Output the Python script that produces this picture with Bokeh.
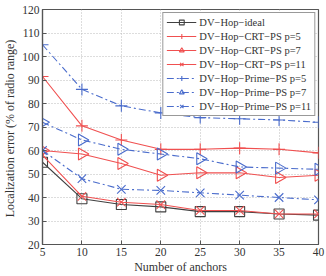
import numpy as np
from bokeh.plotting import figure
from bokeh.models import Range1d, FixedTicker, Legend, LegendItem
from bokeh.embed import file_html
from bokeh.resources import INLINE

# Number of anchors
anchors = [5, 10, 15, 20, 25, 30, 35, 40]

# Localization error (% of radio range)
ideal = [55, 39.5, 37, 36, 34, 34, 33, 32.5]
crt_p5 = [91.5, 70.5, 64.5, 60.5, 60.5, 61, 60.5, 59]
crt_p7 = [60, 58.5, 54.5, 49.5, 50.5, 50.5, 48.5, 49.5]
crt_p11 = [58, 40.5, 38, 37, 34.5, 34.5, 33, 33]
prime_p5 = [105, 86, 79, 76, 74, 73.5, 73, 72]
prime_p7 = [72, 64.5, 60.5, 58.5, 56.5, 53, 52.5, 52]
prime_p11 = [60, 48, 43.5, 43, 42, 41, 40, 39]

x_ticks = [5, 10, 15, 20, 25, 30, 35, 40]
y_ticks = [20, 30, 40, 50, 60, 70, 80, 90, 100, 110, 120]

SERIF = "Liberation Serif"
RED = "#f05050"
BLUE = "#4a6ccc"
BLACK = "#404040"

p = figure(width=326, height=276, output_backend="svg", toolbar_location=None,
           x_range=Range1d(5, 40), y_range=Range1d(20, 120),
           min_border_left=36, min_border_right=8, min_border_top=9,
           min_border_bottom=26)

p.background_fill_color = "white"
p.border_fill_color = "white"
p.outline_line_color = "#555555"
p.outline_line_width = 1.2

for ax in (p.xaxis[0], p.yaxis[0]):
    ax.major_label_text_font = SERIF
    ax.major_label_text_font_size = "11.5px"
    ax.major_label_text_color = "#333333"
    ax.axis_label_text_font = SERIF
    ax.axis_label_text_font_size = "12px"
    ax.axis_label_text_font_style = "normal"
    ax.axis_label_text_color = "#333333"
    ax.axis_line_color = "#555555"
    ax.axis_line_width = 1.2
    ax.major_tick_in = 4
    ax.major_tick_out = 0
    ax.minor_tick_line_color = None
    ax.major_tick_line_color = "#555555"
    ax.major_label_standoff = 3

p.xaxis.ticker = FixedTicker(ticks=x_ticks)
p.yaxis.ticker = FixedTicker(ticks=y_ticks)
p.xaxis.axis_label = "Number of anchors"
p.yaxis.axis_label = "Localization error  (% of radio range)"
p.xaxis.axis_label_standoff = 1
p.yaxis.axis_label_standoff = 2

p.grid.grid_line_color = "#bbbbbb"
p.grid.grid_line_dash = "1 2"
p.grid.grid_line_width = 1

DASHDOT = "7 3 2 3"

series = [
    ("DV\u2212Hop\u2212ideal", ideal, BLACK, "solid", "square", 0),
    ("DV\u2212Hop\u2212CRT\u2212PS p=5", crt_p5, RED, "solid", "cross", 0),
    ("DV\u2212Hop\u2212CRT\u2212PS p=7", crt_p7, RED, "solid", "triangle", -np.pi / 2),
    ("DV\u2212Hop\u2212CRT\u2212PS p=11", crt_p11, RED, "solid", "x", 0),
    ("DV\u2212Hop\u2212Prime\u2212PS p=5", prime_p5, BLUE, DASHDOT, "cross", 0),
    ("DV\u2212Hop\u2212Prime\u2212PS p=7", prime_p7, BLUE, DASHDOT, "triangle", -np.pi / 2),
    ("DV\u2212Hop\u2212Prime\u2212PS p=11", prime_p11, BLUE, DASHDOT, "x", 0),
]

items = []
for name, ys, color, dash, marker, ang in series:
    ln = p.line(anchors, ys, line_color=color, line_width=1.1, line_dash=dash)
    sc = p.scatter(anchors, ys, marker=marker, size=12 if marker != "square" else 10,
                   angle=ang, fill_color=None, line_color=color, line_width=1.1)
    items.append(LegendItem(label=name, renderers=[ln, sc]))

legend = Legend(items=items, location="top_right")
legend.label_text_font = SERIF
legend.label_text_font_size = "10.5px"
legend.label_text_color = "#333333"
legend.glyph_width = 30
legend.glyph_height = 12
legend.label_height = 12
legend.spacing = 2
legend.padding = 3
legend.margin = 3
legend.label_standoff = 3
legend.border_line_color = "#333333"
legend.border_line_width = 1
legend.background_fill_alpha = 1
p.add_layout(legend)

open("out.html", "w").write(file_html(p, INLINE))
